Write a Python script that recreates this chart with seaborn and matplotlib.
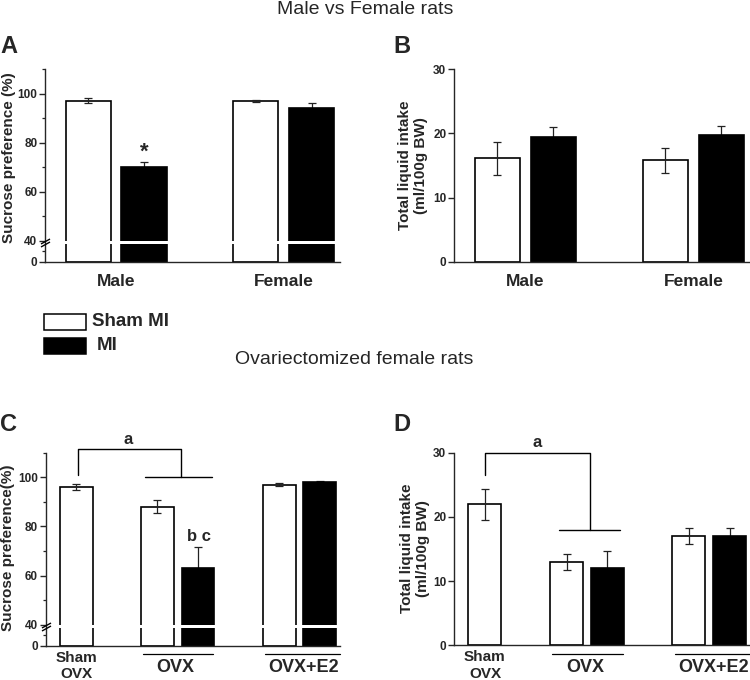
import numpy as np
import pandas as pd
import matplotlib
matplotlib.use("Agg")
import matplotlib.pyplot as plt
from matplotlib.patches import Rectangle
from matplotlib.ticker import FixedLocator, FixedFormatter
import seaborn as sns

# ---------------- data ----------------
legend_labels = ["Sham MI", "MI"]

sexes = ["Male", "Male", "Female", "Female"]
mi_groups_ab = ["Sham MI", "MI", "Sham MI", "MI"]
sucrose_ab = [97.0, 70.0, 97.0, 94.0]
sucrose_ab_sem = [1.0, 2.0, 0.5, 2.3]
intake_ab = [16.1, 19.5, 15.8, 19.8]
intake_ab_sem = [2.5, 1.5, 2.0, 1.3]

treatments = ["Sham OVX", "OVX", "OVX", "OVX+E2", "OVX+E2"]
mi_groups_cd = ["Sham MI", "Sham MI", "MI", "Sham MI", "MI"]
sucrose_cd = [96.0, 88.0, 63.0, 97.0, 98.0]
sucrose_cd_sem = [1.1, 2.6, 8.8, 0.7, 0.3]
intake_cd = [22.0, 13.0, 12.0, 17.0, 17.0]
intake_cd_sem = [2.4, 1.3, 2.7, 1.25, 1.2]

# ---------------- style ----------------
sns.set_style("ticks")
plt.rcParams["font.family"] = ["Liberation Sans", "DejaVu Sans"]
plt.rcParams["axes.linewidth"] = 1.0

palette = {"Sham MI": "white", "MI": "black"}
BREAK = 8.6


def fwd(y):
    y = np.asarray(y, float)
    return np.where(y < 40, y * BREAK / 40.0, BREAK + (y - 40.0))


def inv(v):
    v = np.asarray(v, float)
    return np.where(v < BREAK, v * 40.0 / BREAK, v - BREAK + 40.0)


fig = plt.figure(figsize=(7.5, 6.8), dpi=100)
axA = fig.add_axes([0.060, 0.6151, 0.3933, 0.2834])
axB = fig.add_axes([0.6053, 0.6151, 0.3947, 0.2829])
axC = fig.add_axes([0.061, 0.0504, 0.3924, 0.2838])
axD = fig.add_axes([0.6053, 0.0510, 0.3947, 0.2832])


def bars_of(ax):
    return sorted([p for p in ax.patches if p.get_height() > 0], key=lambda p: p.get_x())


def errbars(ax, bars, means, sems):
    for p, m, s in zip(bars, means, sems):
        x = p.get_x() + p.get_width() / 2
        dark = sum(p.get_facecolor()[:3]) < 1.0
        ax.errorbar(x, m, yerr=s, fmt="none", ecolor="#222222", elinewidth=0.9,
                    capsize=2.6, capthick=0.9, zorder=0.9 if dark else 4)


def style_axis(ax):
    sns.despine(ax=ax)
    for sp in ("left", "bottom"):
        ax.spines[sp].set_zorder(6)
        ax.spines[sp].set_linewidth(1.0)
    ax.tick_params(axis="y", which="major", length=4, width=1.0, labelsize=8.5, pad=1.5)
    ax.tick_params(axis="y", which="minor", length=2.3, width=0.9)
    for t in ax.get_yticklabels():
        t.set_fontweight("bold")
    ax.set_xlabel("")


def broken(ax):
    ax.set_yscale("function", functions=(fwd, inv))
    ax.set_ylim(0, 110)
    ax.yaxis.set_major_locator(FixedLocator([0, 40, 60, 80, 100]))
    ax.yaxis.set_minor_locator(FixedLocator([20, 50, 70, 90, 110]))
    ax.yaxis.set_major_formatter(FixedFormatter(["0", "40", "60", "80", "100"]))
    ax.axhspan(33.0, 40.0, xmin=0.003, xmax=1, color="white", lw=0, zorder=3)
    tr = ax.get_yaxis_transform()
    for yb in (40.0, 33.0):
        ax.plot([0], [yb], marker=[(-1, -0.55), (1, 0.55)], markersize=6.5, mew=1.0,
                color="black", transform=tr, clip_on=False, zorder=7)


# ---------------- Panel A ----------------
dfA = pd.DataFrame({"sex": sexes, "group": mi_groups_ab, "val": sucrose_ab})
sns.barplot(data=dfA, x="sex", y="val", hue="group", hue_order=legend_labels,
            palette=palette, edgecolor="black", linewidth=1.2, width=0.666, gap=0.19,
            errorbar=None, legend=False, ax=axA)
barsA = bars_of(axA)
errbars(axA, barsA, sucrose_ab, sucrose_ab_sem)
broken(axA)
axA.set_xlim(-0.424, 1.336)
axA.set_ylabel("Sucrose preference (%)", fontsize=11, fontweight="bold")
axA.yaxis.set_label_coords(-0.100, 0.54)
style_axis(axA)
axA.tick_params(axis="x", length=0, pad=9)
axA.set_xticks([0, 1])
axA.set_xticklabels(["Male", "Female"], fontsize=12.5, fontweight="bold")
pA = barsA[1]
axA.text(pA.get_x() + pA.get_width() / 2, 76.0, "*", ha="center", va="center",
         fontsize=16, fontweight="bold")

# ---------------- Panel B ----------------
dfB = pd.DataFrame({"sex": sexes, "group": mi_groups_ab, "val": intake_ab})
sns.barplot(data=dfB, x="sex", y="val", hue="group", hue_order=legend_labels,
            palette=palette, edgecolor="black", linewidth=1.2, width=0.666, gap=0.19,
            errorbar=None, legend=False, ax=axB)
errbars(axB, bars_of(axB), intake_ab, intake_ab_sem)
axB.set_ylim(0, 30)
axB.set_yticks([0, 10, 20, 30])
axB.set_xlim(-0.424, 1.336)
axB.set_ylabel("Total liquid intake\n(ml/100g BW)", fontsize=11, fontweight="bold",
               linespacing=1.15)
axB.yaxis.set_label_coords(-0.088, 0.50)
style_axis(axB)
axB.tick_params(axis="x", length=0, pad=9)
axB.set_xticks([0, 1])
axB.set_xticklabels(["Male", "Female"], fontsize=12.5, fontweight="bold")

# ---------------- Panels C / D ----------------
slot = {("Sham OVX", "Sham MI"): 0, ("OVX", "Sham MI"): 2, ("OVX", "MI"): 3,
        ("OVX+E2", "Sham MI"): 5, ("OVX+E2", "MI"): 6}
slots = [slot[(t, g)] for t, g in zip(treatments, mi_groups_cd)]


def cd_labels(ax):
    tr = ax.get_xaxis_transform()
    ax.set_xticks([])
    ax.text(0.0, -0.105, "Sham\nOVX", transform=tr, ha="center", va="center",
            fontsize=11, fontweight="bold", linespacing=1.25)
    ax.plot([1.65, 3.38], [-0.045, -0.045], color="black", lw=0.9, transform=tr, clip_on=False)
    ax.plot([4.65, 6.5], [-0.045, -0.045], color="black", lw=0.9, transform=tr, clip_on=False)
    ax.text(2.45, -0.115, "OVX", transform=tr, ha="center", va="center",
            fontsize=13, fontweight="bold")
    ax.text(5.6, -0.115, "OVX+E2", transform=tr, ha="center", va="center",
            fontsize=13, fontweight="bold")


dfC = pd.DataFrame({"slot": slots, "group": mi_groups_cd, "val": sucrose_cd})
sns.barplot(data=dfC, x="slot", y="val", hue="group", hue_order=legend_labels,
            palette=palette, edgecolor="black", linewidth=1.2, width=0.81,
            native_scale=True, dodge=False, errorbar=None, legend=False, ax=axC)
errbars(axC, bars_of(axC), sucrose_cd, sucrose_cd_sem)
broken(axC)
axC.set_xlim(-0.75, 6.5)
axC.set_ylabel("Sucrose preference(%)", fontsize=11, fontweight="bold")
axC.yaxis.set_label_coords(-0.104, 0.51)
style_axis(axC)
cd_labels(axC)
# significance bracket C
axC.plot([0.05, 0.05, 2.59, 2.59], [101, 111.6, 111.6, 100.2], color="black", lw=1.0,
         clip_on=False)
axC.plot([1.7, 3.34], [100.2, 100.2], color="black", lw=1.0, clip_on=False)
axC.text(1.29, 115.5, "a", ha="center", va="center", fontsize=12, fontweight="bold")
axC.text(3.02, 76.0, "b c", ha="center", va="center", fontsize=12, fontweight="bold")

dfD = pd.DataFrame({"slot": slots, "group": mi_groups_cd, "val": intake_cd})
sns.barplot(data=dfD, x="slot", y="val", hue="group", hue_order=legend_labels,
            palette=palette, edgecolor="black", linewidth=1.2, width=0.81,
            native_scale=True, dodge=False, errorbar=None, legend=False, ax=axD)
errbars(axD, bars_of(axD), intake_cd, intake_cd_sem)
axD.set_ylim(0, 30)
axD.set_yticks([0, 10, 20, 30])
axD.set_xlim(-0.76, 6.5)
axD.set_ylabel("Total liquid intake\n(ml/100g BW)", fontsize=11, fontweight="bold",
               linespacing=1.15)
axD.yaxis.set_label_coords(-0.081, 0.503)
style_axis(axD)
cd_labels(axD)
axD.plot([0.0, 0.0, 2.57, 2.57], [26.5, 30.0, 30.0, 18.0], color="black", lw=1.0,
         clip_on=False)
axD.plot([1.82, 3.3], [18.0, 18.0], color="black", lw=1.0, clip_on=False)
axD.text(1.27, 31.6, "a", ha="center", va="center", fontsize=12, fontweight="bold")

# ---------------- figure texts ----------------
fig.text(0.487, 0.986, "Male vs Female rats", ha="center", va="center", fontsize=14)
fig.text(0.313, 0.472, "Ovariectomized female rats", ha="left", va="center", fontsize=14)
for lab, x, y in (("A", 0.012, 0.931), ("B", 0.536, 0.932), ("C", 0.011, 0.376), ("D", 0.536, 0.376)):
    fig.text(x, y, lab, ha="center", va="center", fontsize=17, fontweight="bold")

# legend
for i, lab in enumerate(legend_labels):
    y0 = 0.5147 - i * 0.0353
    fig.add_artist(Rectangle((0.0587, y0), 0.056, 0.0235, transform=fig.transFigure,
                             facecolor=palette[lab], edgecolor="black", lw=1.1))
    fig.text(0.1223 + i * 0.007, y0 + 0.0118, lab, ha="left", va="center",
             fontsize=13.5, fontweight="bold")

fig.savefig("out.png", dpi=100)
